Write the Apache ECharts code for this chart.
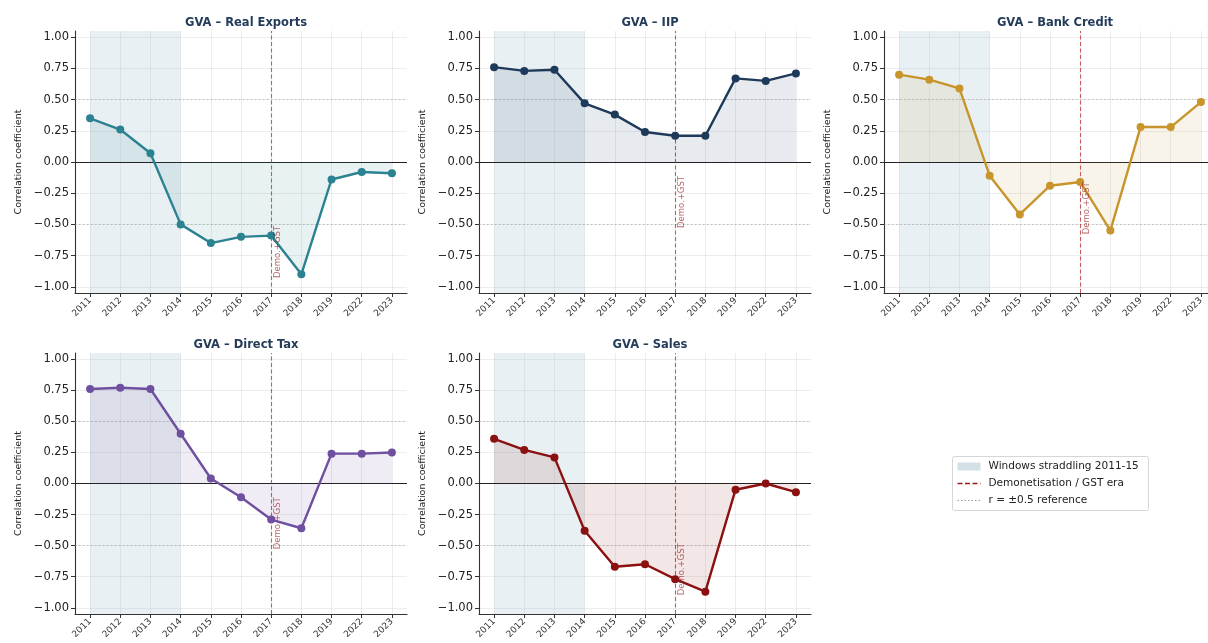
<!DOCTYPE html>
<html>
<head>
<meta charset="utf-8">
<script src="https://cdn.jsdelivr.net/npm/echarts@6/dist/echarts.min.js"></script>
<style>
  html, body { margin: 0; padding: 0; background: #ffffff; }
  #chart { width: 1208px; height: 643px; }
</style>
</head>
<body>
<div id="chart"></div>
<script>
// Rolling-window end years (category labels on every x axis)
const windows = ['2011', '2012', '2013', '2014', '2015', '2016', '2017', '2018', '2019', '2022', '2023'];
// Y tick positions shared by all panels
const yTicks = [-1, -0.75, -0.5, -0.25, 0, 0.25, 0.5, 0.75, 1];

// Rolling correlation of GVA with each indicator
const realExports = [0.35, 0.26, 0.07, -0.50, -0.65, -0.60, -0.59, -0.90, -0.14, -0.08, -0.09];
const iip         = [0.76, 0.73, 0.74, 0.47, 0.38, 0.24, 0.21, 0.21, 0.67, 0.65, 0.71];
const bankCredit  = [0.70, 0.66, 0.59, -0.11, -0.42, -0.19, -0.16, -0.55, 0.28, 0.28, 0.48];
const directTax   = [0.76, 0.77, 0.76, 0.40, 0.04, -0.11, -0.29, -0.36, 0.24, 0.24, 0.25];
const sales       = [0.36, 0.27, 0.21, -0.38, -0.67, -0.65, -0.77, -0.87, -0.05, 0.00, -0.07];

const panelTitles = ['GVA – Real Exports', 'GVA – IIP', 'GVA – Bank Credit', 'GVA – Direct Tax', 'GVA – Sales'];
const panelSeries = [realExports, iip, bankCredit, directTax, sales];

// Shaded windows and the event marker
const shadeStart = '2011';
const shadeEnd = '2014';
const eventWindow = '2017';
const eventLabel = 'Demo.+GST';
const refLevels = [-0.5, 0.5];

const legendLabels = ['Windows straddling 2011-15', 'Demonetisation / GST era', 'r = ±0.5 reference'];

// ---- styling ----
const FONT = 'DejaVu Sans';
const colors = ['#2b8290', '#1e3a5a', '#c8952c', '#6f4fa0', '#8b1010'];
const gridBoxes = [
  { left: 75,  top: 31,  width: 332, height: 262 },
  { left: 479, top: 31,  width: 332, height: 262 },
  { left: 884, top: 31,  width: 332, height: 262 },
  { left: 75,  top: 353, width: 332, height: 261 },
  { left: 479, top: 353, width: 332, height: 261 }
];
const shadeColor = 'rgba(175, 200, 212, 0.27)';
const eventColor = 'rgba(185, 35, 35, 0.72)';
const refColor = 'rgba(140, 140, 140, 0.5)';
const gridLineColor = 'rgba(0, 0, 0, 0.07)';
const spineColor = '#333333';

function hexToRgba(hex, a) {
  const n = parseInt(hex.slice(1), 16);
  return 'rgba(' + ((n >> 16) & 255) + ',' + ((n >> 8) & 255) + ',' + (n & 255) + ',' + a + ')';
}
function fmtTick(v) {
  const s = Math.abs(v).toFixed(2);
  return v < -1e-9 ? '\u2212' + s : s;
}

const xIdx = windows.map((_, i) => i);
const grids = [], xAxes = [], yAxes = [], series = [], titles = [];

panelSeries.forEach((vals, p) => {
  const g = gridBoxes[p];
  grids.push({
    left: g.left, top: g.top, width: g.width, height: g.height,
    containLabel: false, outerBoundsMode: 'none'
  });

  titles.push({
    text: panelTitles[p],
    left: g.left + g.width / 2,
    top: g.top - 19,
    textAlign: 'center',
    textStyle: { fontFamily: FONT, fontSize: 11.5, fontWeight: 'bold', color: '#243c5a' }
  });

  xAxes.push({
    type: 'value',
    gridIndex: p,
    min: -0.5,
    max: windows.length - 0.5,
    axisLine: { show: true, onZero: false, lineStyle: { color: spineColor, width: 1.1 } },
    axisTick: { show: true, customValues: xIdx, length: 4, lineStyle: { color: spineColor } },
    axisLabel: {
      customValues: xIdx,
      rotate: 45,
      margin: 6,
      fontFamily: FONT,
      fontSize: 9,
      color: '#333',
      formatter: v => windows[Math.round(v)]
    },
    splitLine: { show: true, lineStyle: { color: gridLineColor, width: 1 } }
  });

  yAxes.push({
    type: 'value',
    gridIndex: p,
    min: -1.05,
    max: 1.05,
    name: 'Correlation coefficient',
    nameLocation: 'middle',
    nameGap: 51,
    nameTextStyle: { fontFamily: FONT, fontSize: 9.5, color: '#222' },
    axisLine: { show: true, onZero: false, lineStyle: { color: spineColor, width: 1.1 } },
    axisTick: { show: true, customValues: yTicks, length: 4, lineStyle: { color: spineColor } },
    axisLabel: {
      customValues: yTicks,
      margin: 6,
      fontFamily: FONT,
      fontSize: 11.5,
      color: '#222',
      formatter: fmtTick
    },
    splitLine: { show: true, lineStyle: { color: gridLineColor, width: 1 } }
  });

  const eventX = windows.indexOf(eventWindow);
  const minVal = Math.min.apply(null, vals);
  const labelY = Math.min(minVal, -0.5) - 0.03;

  series.push({
    type: 'line',
    name: panelTitles[p],
    xAxisIndex: p,
    yAxisIndex: p,
    data: vals.map((v, i) => [i, v]),
    symbol: 'circle',
    symbolSize: 8,
    color: colors[p],
    lineStyle: { width: 2.4, color: colors[p] },
    itemStyle: { color: colors[p] },
    areaStyle: { color: hexToRgba(colors[p], 0.15), origin: 0 },
    z: 5,
    silent: true,
    markArea: {
      silent: true,
      z: 1,
      itemStyle: { color: shadeColor },
      data: [[{ xAxis: windows.indexOf(shadeStart) }, { xAxis: windows.indexOf(shadeEnd) }]]
    },
    markLine: {
      silent: true,
      symbol: 'none',
      animation: false,
      label: { show: false },
      data: [
        { yAxis: 0, lineStyle: { color: '#222', width: 1, type: 'solid' } },
        ...refLevels.map(r => ({ yAxis: r, lineStyle: { color: refColor, width: 1, type: [1.5, 2.5] } })),
        { xAxis: eventX, lineStyle: { color: eventColor, width: 1.1, type: [4, 2.5] } }
      ]
    }
  });

  series.push({
    type: 'scatter',
    xAxisIndex: p,
    yAxisIndex: p,
    data: [[eventX, labelY]],
    symbolSize: 0,
    silent: true,
    z: 6,
    label: {
      show: true,
      formatter: eventLabel,
      position: 'right',
      distance: 7,
      rotate: 90,
      align: 'left',
      verticalAlign: 'middle',
      fontFamily: FONT,
      fontSize: 8.5,
      color: 'rgba(150, 25, 25, 0.85)'
    }
  });
});

// Legend box in the empty lower-right cell
const lx = 952, ly = 456;
const legendGraphic = {
  type: 'group',
  left: lx,
  top: ly,
  children: [
    { type: 'rect', shape: { x: 0, y: 0, width: 196, height: 54, r: 2 },
      style: { fill: '#ffffff', stroke: '#d6d6d6', lineWidth: 1 } },
    { type: 'rect', shape: { x: 5, y: 6, width: 23, height: 8 }, style: { fill: 'rgba(175, 200, 212, 0.55)' } },
    { type: 'line', shape: { x1: 5, y1: 27, x2: 28, y2: 27 },
      style: { stroke: '#9b1c1c', lineWidth: 1.6, lineDash: [5, 2.5] } },
    { type: 'line', shape: { x1: 5, y1: 44, x2: 28, y2: 44 },
      style: { stroke: '#9a9a9a', lineWidth: 1.2, lineDash: [1.5, 2] } },
    { type: 'text', x: 36, y: 10, style: { text: legendLabels[0], font: '10.5px "DejaVu Sans"', fill: '#222', verticalAlign: 'middle' } },
    { type: 'text', x: 36, y: 27, style: { text: legendLabels[1], font: '10.5px "DejaVu Sans"', fill: '#222', verticalAlign: 'middle' } },
    { type: 'text', x: 36, y: 44, style: { text: legendLabels[2], font: '10.5px "DejaVu Sans"', fill: '#222', verticalAlign: 'middle' } }
  ]
};

const chart = echarts.init(document.getElementById('chart'), null, { renderer: 'canvas' });
chart.setOption({
  backgroundColor: '#ffffff',
  animation: false,
  textStyle: { fontFamily: FONT },
  title: titles,
  grid: grids,
  xAxis: xAxes,
  yAxis: yAxes,
  series: series,
  graphic: [legendGraphic]
});
</script>
</body>
</html>
